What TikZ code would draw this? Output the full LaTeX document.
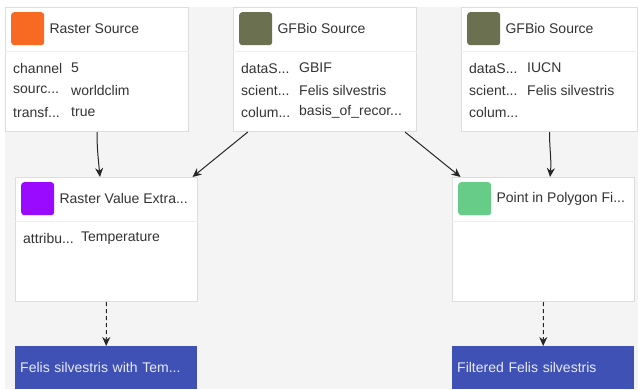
\documentclass[tikz,border=0pt]{standalone}
\usepackage{fontspec}
\setmainfont{Liberation Sans}
\usetikzlibrary{positioning,arrows.meta}
\definecolor{canvas}{HTML}{F4F4F4}
\definecolor{boxline}{HTML}{DDDDDD}
\definecolor{headline}{HTML}{EEEEEE}
\definecolor{txt}{HTML}{333333}
\definecolor{rastercol}{HTML}{F86A22}
\definecolor{gfbiocol}{HTML}{6A7050}
\definecolor{extractcol}{HTML}{990AFF}
\definecolor{polycol}{HTML}{66CC88}
\definecolor{resultcol}{HTML}{3F51B5}
\definecolor{resulttxt}{HTML}{E8EAF6}
\newcommand{\tdots}{...}

\begin{document}
\begin{tikzpicture}[x=1pt,y=-1pt,
  opbox/.style={draw=boxline,fill=white,line width=1pt,anchor=north west,
    minimum width=183pt,minimum height=124pt,inner sep=0pt},
  swatch/.style={rounded corners=3pt,minimum size=33pt,inner sep=0pt},
  title/.style={text=txt,font=\fontsize{14}{16}\selectfont,inner sep=0pt},
  row/.style={anchor=west,text=txt,font=\fontsize{14}{16}\selectfont,inner sep=0pt},
  result/.style={fill=resultcol,anchor=north west,minimum width=182pt,minimum height=43pt,
    text width=172pt,inner xsep=5pt,align=left,text=resulttxt,font=\fontsize{14}{16}\selectfont},
  flow/.style={draw=black!85,line width=1pt,-{Stealth[length=9pt,width=8pt]}}]
\useasboundingbox (0,0) rectangle (638,389);
\fill[canvas] (5,7) rectangle (638,389);

\node[opbox] (raster) at (5,7) {};
\node[opbox] (gfbioA) at (233,7) {};
\node[opbox,minimum width=176pt] (gfbioB) at (461,7) {};
\node[opbox,minimum width=182pt] (extract) at (15,177) {};
\node[opbox,minimum width=182pt] (polygon) at (452,177) {};

\foreach \n/\c/\t in {raster/rastercol/Raster Source, gfbioA/gfbiocol/GFBio Source,
    gfbioB/gfbiocol/GFBio Source, extract/extractcol/Raster Value Extra\tdots,
    polygon/polycol/Point in Polygon Fi\tdots}{
  \draw[headline,line width=1pt] ([yshift=-44pt]\n.north west) -- ([yshift=-44pt]\n.north east);
  \node[swatch,fill=\c,below right=5pt and 6pt of \n.north west] (\n sw) {};
  \node[title,right=5pt of \n sw] {\t};
}

\foreach \n/\k/\v/\r in {raster/channel/5/0, raster/sourc\tdots/worldclim/1, raster/transf\tdots/true/2,
    gfbioA/dataS\tdots/GBIF/0, gfbioA/scient\tdots/Felis silvestris/1, gfbioA/colum\tdots/basis\_of\_recor\tdots/2,
    gfbioB/dataS\tdots/IUCN/0, gfbioB/scient\tdots/Felis silvestris/1, gfbioB/colum\tdots/{}/2,
    extract/attribu\tdots/Temperature/0}{
  \node[row] at ([xshift=8pt,yshift={-(61+22*\r)*1pt}]\n.north west) {\k};
  \node[row] at ([xshift=66pt,yshift={-(61+22*\r)*1pt}]\n.north west) {\v};
}

\node[result] (resultA) at (15,346) {Felis silvestris with Tem\tdots};
\node[result] (resultB) at (452,346) {Filtered Felis silvestris};

\draw[flow] (raster.south) to[out=-90,in=95] (extract.96);
\draw[flow] (gfbioA.219) -- (extract.36);
\draw[flow] (gfbioA.322) -- (polygon.143);
\draw[flow] (gfbioB.south) to[out=-90,in=85] (polygon.84);
\draw[flow,dash pattern=on 4pt off 3pt] (extract.south) -- (resultA.north);
\draw[flow,dash pattern=on 4pt off 3pt] (polygon.south) -- (resultB.north);
\end{tikzpicture}
\end{document}
